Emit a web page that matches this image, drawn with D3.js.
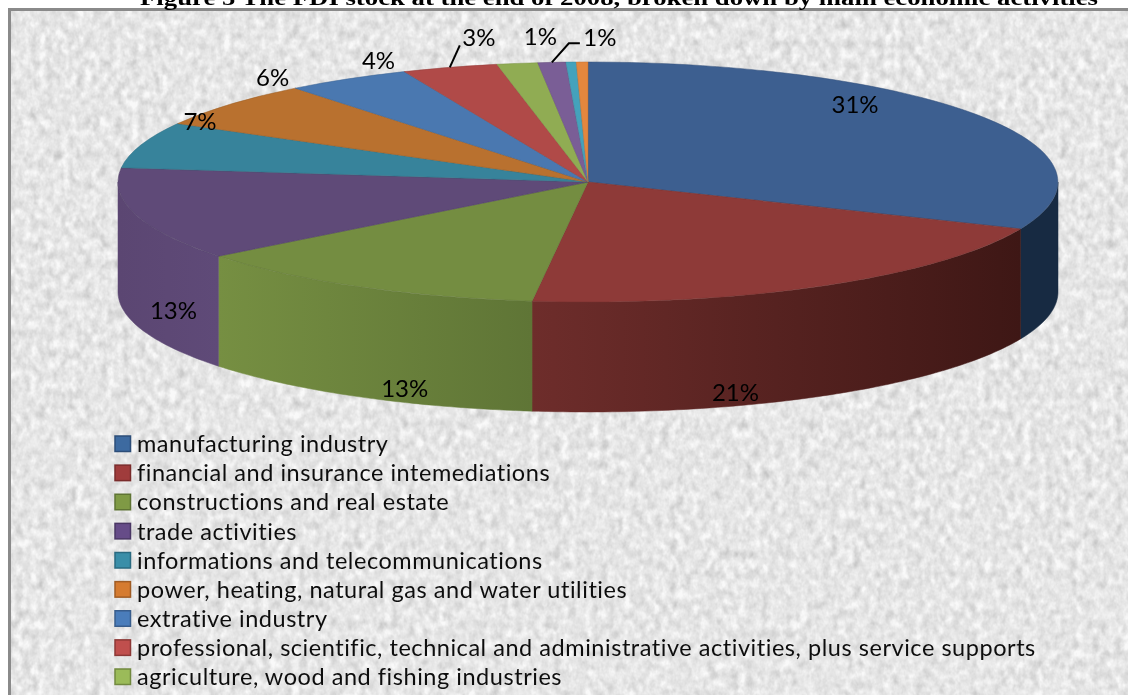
<!DOCTYPE html>
<html><head><meta charset="utf-8">
<script src="https://cdn.jsdelivr.net/npm/d3@7/dist/d3.min.js"></script>
<style>html,body{margin:0;padding:0;background:#fff;overflow:hidden}svg{display:block}</style>
</head><body><div id="c"></div>
<script>
const titleText = "Figure 5 The FDI stock at the end of 2008, broken down by main economic activities";
const categories = ["manufacturing industry","financial and insurance intemediations","constructions and real estate","trade activities","informations and telecommunications","power, heating, natural gas and water utilities","extrative industry","professional, scientific, technical and administrative activities, plus service supports","agriculture, wood and fishing industries"];
const values = [31.4,20.5,12.5,12.5,6.2,6.2,4.3,3.3,1.4,0.95,0.35,0.4];
const labels = ["31%","21%","13%","13%","7%","6%","4%","3%","1%","1%","",""];
const topColors = ["#3d5f90","#8e3a38","#748d41","#5f4a78","#37839b","#b9712f","#4a78b0","#b04a48","#90ac53","#7a5e96","#44a2bc","#e4873e"];
const sideLeft = ["#172a42","#6e2d2b","#768f42","#5b4672"];
const sideRight = ["#172a42","#3e1715","#5f7536","#5f4a78"];
const legendFill = ["#3d6aa0","#a03c3c","#7f9a45","#664c88","#3a8ea8","#d57b30","#4a7dbb","#c04f4d","#9bbb59"];
const legendEdge = ["#2c4d78","#7a2c2c","#5f7434","#4a3764","#2a6a80","#a05c24","#385d8c","#8c3836","#71893f"];

const W=1128,H=695;
const cx=588,cy=182,rx=470,ry=120,depth=110;
const labelNudge=[[-125,-11],[-88,107],[47,102],[38,96],[59,-23],[43,-27],[31,-18],[29,-30],[23,-27],[48,-25]];
const leaderBends={7:[[10,-22]],9:[[17,-19],[28,-19]]};

const svg=d3.select("#c").append("svg").attr("width",W).attr("height",H);
const defs=svg.append("defs");
const tex=defs.append("filter").attr("id","paper").attr("x",0).attr("y",0).attr("width","100%").attr("height","100%").attr("color-interpolation-filters","sRGB");
tex.append("feTurbulence").attr("type","fractalNoise").attr("baseFrequency","0.13 0.10").attr("numOctaves",3).attr("seed",7);
tex.append("feColorMatrix").attr("values","0.7 0.7 0 0 0  0.7 0.7 0 0 0  0.7 0.7 0 0 0  0 0 0 0 1");
tex.append("feComponentTransfer").selectAll("x").data(["feFuncR","feFuncG","feFuncB"]).enter().append(d=>document.createElementNS("http://www.w3.org/2000/svg",d))
  .attr("type","linear").attr("slope",0.26).attr("intercept",0.72);
const soft=defs.append("filter").attr("id","soft");
soft.append("feGaussianBlur").attr("stdDeviation",0.45);

// frame + paper
svg.append("rect").attr("x",9).attr("y",9).attr("width",W).attr("height",H).attr("fill","#e8e8e8").attr("filter","url(#paper)");
svg.append("path").attr("d",`M9.5,${H}V9.5H${W}`).attr("fill","none").attr("stroke","#8a8a8a").attr("stroke-width",3);

svg.append("text").attr("x",619).attr("y",5).attr("text-anchor","middle")
  .attr("font-family","'Liberation Serif',serif").attr("font-weight","bold").attr("font-size",20.5).attr("fill","#000")
  .attr("textLength",958).attr("lengthAdjust","spacingAndGlyphs").attr("filter","url(#soft)").text(titleText);

// pie
const pie=d3.pie().sort(null).value(d=>d);
const arcs=pie(values);
const px=a=>cx+rx*Math.sin(a), py=a=>cy-ry*Math.cos(a);
const line=d3.line();
const rad=Math.PI/180;

const sides=svg.append("g");
arcs.forEach((d,i)=>{
  const a0=Math.max(d.startAngle,Math.PI/2),a1=Math.min(d.endAngle,3*Math.PI/2);
  if(a1<=a0) return;
  const g=defs.append("linearGradient").attr("id","side"+i);
  g.append("stop").attr("offset",0).attr("stop-color",sideLeft[i]);
  g.append("stop").attr("offset",1).attr("stop-color",sideRight[i]);
  const ang=d3.range(a0,a1,rad).concat([a1]);
  const pts=ang.map(a=>[px(a),py(a)]).concat(ang.slice().reverse().map(a=>[px(a),py(a)+depth]));
  sides.append("path").attr("d",line(pts)+"Z").attr("fill",`url(#side${i})`).attr("stroke",`url(#side${i})`).attr("stroke-width",0.5);
});

const tops=svg.append("g").attr("transform",`translate(${cx},${cy}) scale(${rx},${ry})`);
const arc=d3.arc().innerRadius(0).outerRadius(1);
tops.selectAll("path").data(arcs).enter().append("path").attr("d",arc)
  .attr("fill",(d,i)=>topColors[i]).attr("stroke",(d,i)=>d3.color(topColors[i]).darker(0.5)).attr("stroke-width",0.5).attr("vector-effect","non-scaling-stroke");

// labels
const lg=svg.append("g").attr("font-family","Lato,sans-serif").attr("font-size",24).attr("fill","#000").attr("filter","url(#soft)");
labels.forEach((t,i)=>{
  if(!t) return;
  const a=(arcs[i].startAngle+arcs[i].endAngle)/2, n=labelNudge[i];
  const bx=px(a),by=py(a);
  lg.append("text").attr("x",bx+n[0]).attr("y",by+n[1]).attr("dy","0.35em").attr("text-anchor","middle").text(t);
  if(leaderBends[i]){
    const pts=[[bx,by]].concat(leaderBends[i].map(b=>[bx+b[0],by+b[1]]));
    svg.append("path").attr("d",line(pts)).attr("fill","none").attr("stroke","#000").attr("stroke-width",2);
  }
});

// legend
const y=d3.scalePoint().domain(categories).range([444,677]);
const leg=svg.append("g");
const rows=leg.selectAll("g").data(categories).enter().append("g").attr("transform",d=>`translate(0,${y(d)})`);
rows.append("rect").attr("x",115).attr("y",-8).attr("width",15.5).attr("height",15.5)
  .attr("fill",(d,i)=>legendFill[i]).attr("stroke",(d,i)=>legendEdge[i]).attr("stroke-width",1.5);
rows.append("text").attr("x",137).attr("dy","0.35em").attr("font-family","Lato,sans-serif").attr("font-size",23.5).attr("letter-spacing",0.54).attr("fill","#111").attr("filter","url(#soft)").text(d=>d);
</script></body></html>
